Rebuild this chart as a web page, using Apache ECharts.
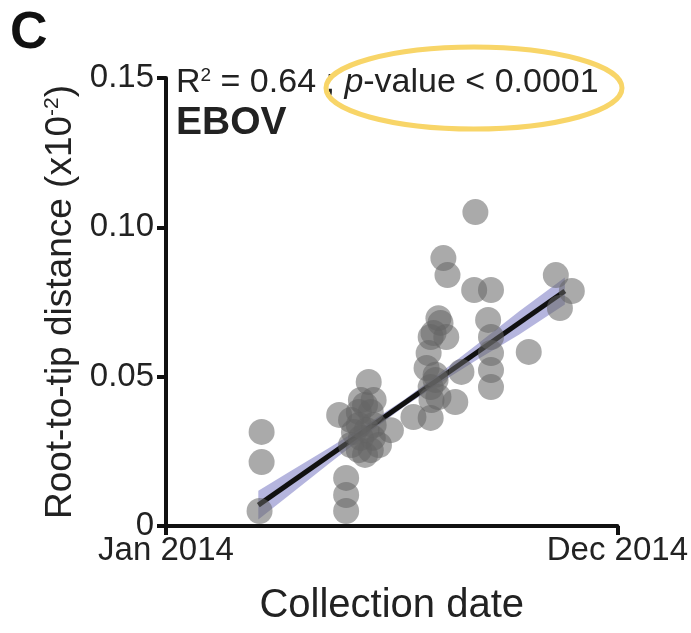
<!DOCTYPE html>
<html>
<head>
<meta charset="utf-8">
<script src="https://cdn.jsdelivr.net/npm/echarts@6/dist/echarts.min.js"></script>
<style>
html,body{margin:0;padding:0;background:#fff;}
#chart{width:691px;height:633px;}
</style>
</head>
<body>
<div id="chart"></div>
<script>
// x: months since 1 Jan 2014 (0 = Jan 2014, 11 = Dec 2014); y: root-to-tip distance (x10^-2)
var sampleMonths = [
  2.33, 2.33, 2.28,
  4.39, 4.39, 4.39,
  4.94, 4.22, 5.48, 4.51, 4.51, 4.75, 5.06, 4.70, 4.99, 4.70, 5.06, 4.75, 5.04, 4.70, 4.99, 4.85, 4.85, 4.89, 4.58, 5.19,
  6.03, 6.45, 6.47, 7.05, 6.45, 6.57, 7.20, 6.35, 6.40, 6.45, 6.83, 6.64, 6.69, 6.76, 6.86, 7.51, 7.92, 7.54,
  6.57, 6.64, 6.52,
  7.85, 7.92, 7.92, 7.92, 7.92, 8.84, 9.50, 9.89, 9.60
];
var rootToTip = [
  0.0315, 0.0214, 0.0050,
  0.0161, 0.0104, 0.0050,
  0.0482, 0.0372, 0.0321, 0.0355, 0.0271, 0.0422, 0.0422, 0.0382, 0.0382, 0.0338, 0.0338, 0.0295, 0.0295, 0.0254, 0.0254, 0.0238, 0.0405, 0.0321, 0.0315, 0.0271,
  0.0365, 0.0362, 0.0422, 0.0415, 0.0465, 0.0506, 0.0516, 0.0529, 0.0579, 0.0633, 0.0633, 0.0696, 0.0680, 0.0897, 0.0840, 0.0790, 0.0790, 0.1051,
  0.0489, 0.0432, 0.0646,
  0.0690, 0.0633, 0.0579, 0.0522, 0.0465, 0.0583, 0.0840, 0.0787, 0.0730
];
// regression line and its confidence band
var fitMonths = [2.25, 9.72];
var fitValues = [0.0070, 0.0787];
var bandMonths = [2.25, 3.0, 4.0, 5.0, 5.8, 6.6, 7.6, 8.6, 9.72];
var bandLower = [0.0022, 0.0103, 0.0212, 0.0318, 0.0399, 0.0472, 0.0558, 0.0640, 0.0742];
var bandUpper = [0.0118, 0.0181, 0.0264, 0.0350, 0.0423, 0.0504, 0.0610, 0.0718, 0.0832];
var yTicks = ['0', '0.05', '0.10', '0.15'];
var xTickLabels = {0: 'Jan 2014', 11: 'Dec 2014'};

var FONT = 'Liberation Sans, Arial, Helvetica, sans-serif';
var chart = echarts.init(document.getElementById('chart'));

var points = sampleMonths.map(function (m, i) { return [m, rootToTip[i]]; });
var fit = fitMonths.map(function (m, i) { return [m, fitValues[i]]; });
var band = bandMonths.map(function (m, i) { return [m, bandLower[i], bandUpper[i]]; });

chart.setOption({
  animation: false,
  backgroundColor: '#fff',
  grid: {left: 166, right: 71, top: 78, bottom: 107, containLabel: false},
  xAxis: {
    type: 'value', min: 0, max: 11, interval: 11,
    name: 'Collection date', nameLocation: 'middle', nameGap: 60,
    nameTextStyle: {fontFamily: FONT, fontSize: 40, color: '#222'},
    axisLine: {lineStyle: {color: '#111', width: 4}},
    axisTick: {length: 9, lineStyle: {color: '#111', width: 4}},
    axisLabel: {fontFamily: FONT, fontSize: 33, color: '#222', margin: 8,
      formatter: function (v) { return xTickLabels[v] || ''; }},
    splitLine: {show: false}
  },
  yAxis: {
    type: 'value', min: 0, max: 0.15, interval: 0.05,
    name: '{a|Root-to-tip distance (x10}{s|-2}{a|)}', nameLocation: 'middle', nameGap: 86, nameRotate: 90,
    nameTextStyle: {rich: {
      a: {fontFamily: FONT, fontSize: 37, color: '#222'},
      s: {fontFamily: FONT, fontSize: 21, color: '#222', verticalAlign: 'top', lineHeight: 24}
    }},
    axisLine: {show: true, lineStyle: {color: '#111', width: 4}},
    axisTick: {show: true, length: 9, lineStyle: {color: '#111', width: 4}},
    axisLabel: {fontFamily: FONT, fontSize: 33, color: '#222', margin: 12,
      formatter: function (v) { return yTicks[Math.round(v / 0.05)]; }},
    splitLine: {show: false}
  },
  series: [
    {type: 'custom', data: band, z: 1, silent: true,
      renderItem: function (params, api) {
        if (params.dataIndex !== 0) return null;
        var pts = [];
        for (var i = 0; i < band.length; i++) pts.push(api.coord([band[i][0], band[i][2]]));
        for (var j = band.length - 1; j >= 0; j--) pts.push(api.coord([band[j][0], band[j][1]]));
        return {type: 'polygon', shape: {points: pts}, style: {fill: 'rgba(120,120,195,0.55)'}};
      }},
    {type: 'line', data: fit, symbol: 'none', lineStyle: {color: '#111', width: 5}, z: 2},
    {type: 'scatter', data: points, symbol: 'circle', symbolSize: 26,
      itemStyle: {color: '#646464', opacity: 0.55}, z: 3}
  ],
  graphic: [
    {type: 'text', x: 10, y: 8, style: {text: 'C', font: 'bold 52px ' + FONT, fill: '#111'}},
    {type: 'text', x: 176, y: 66, style: {
      text: '{n|R}{s|2}{n| = 0.64 ; }{i|p}{n|-value < 0.0001}',
      rich: {
        n: {fontFamily: FONT, fontSize: 34, fill: '#222', color: '#222'},
        i: {fontFamily: FONT, fontSize: 34, fontStyle: 'italic', fill: '#222', color: '#222'},
        s: {fontFamily: FONT, fontSize: 19, fill: '#222', color: '#222', verticalAlign: 'top', lineHeight: 22}
      }}},
    {type: 'text', x: 176, y: 104, style: {text: 'EBOV', font: 'bold 39px ' + FONT, fill: '#222'}},
    {type: 'ellipse', shape: {cx: 474, cy: 88, rx: 148, ry: 41}, style: {fill: 'none', stroke: '#f8d568', lineWidth: 5}}
  ]
});
</script>
</body>
</html>
